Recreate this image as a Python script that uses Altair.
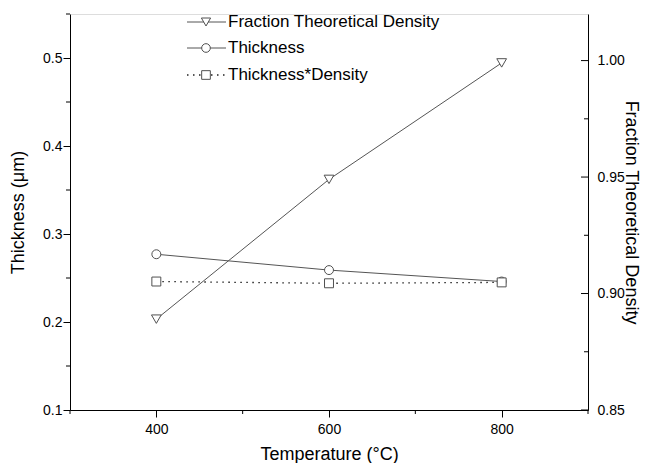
import altair as alt
import pandas as pd

# ---- data ----
temperature = [400, 600, 800]
thickness = [0.277, 0.259, 0.246]
thickness_density = [0.246, 0.244, 0.245]
density = [0.889, 0.949, 0.999]

x_major = [400, 600, 800]
x_minor = [300, 500, 700, 900]
left_major = [0.1, 0.2, 0.3, 0.4, 0.5]
left_minor = [0.15, 0.25, 0.35, 0.45, 0.55]
right_major = [0.85, 0.90, 0.95, 1.00]
right_minor = [0.875, 0.925, 0.975]
legend_labels = ["Fraction Theoretical Density", "Thickness", "Thickness*Density"]
legend_shapes = ["triangle-down", "circle", "square"]

W, H = 518, 396
FONT = "Liberation Sans"
GRAY = "#505050"
LINE = "#555555"

df = pd.DataFrame({"T": temperature, "thick": thickness,
                   "td": thickness_density, "dens": density})

xscale = alt.Scale(domain=[300, 900], nice=False, zero=False)
lscale = alt.Scale(domain=[0.1, 0.55], nice=False, zero=False)
rscale = alt.Scale(domain=[0.85, 1.02], nice=False, zero=False)

common = dict(grid=False, domainColor="black", tickColor="black",
              labelColor="black", titleColor="black", labelFont=FONT,
              titleFont=FONT, labelFontSize=14, titleFontSize=18,
              titleFontWeight="normal", domainWidth=1, tickWidth=1)

xaxis = alt.Axis(values=x_major, format="d", title="Temperature (°C)",
                 tickSize=7, labelPadding=5, titleX=W / 2, titleY=44,
                 titleBaseline="middle", titleAngle=0, **common)
laxis = alt.Axis(values=left_major, format=".1f", title="Thickness (μm)",
                 tickSize=7, labelPadding=1, titleX=-52, titleY=H / 2,
                 titleBaseline="middle", titleAngle=-90, **common)
raxis = alt.Axis(values=right_major, format=".2f", orient="right",
                 title="Fraction Theoretical Density", ticks=False,
                 tickSize=0, labelPadding=9, titleX=42, titleY=H / 2,
                 titleBaseline="middle", titleAngle=90, **common)

X = alt.X("T:Q", scale=xscale, axis=xaxis)

thick_line = alt.Chart(df).mark_line(color=LINE, strokeWidth=1).encode(
    x=X, y=alt.Y("thick:Q", scale=lscale, axis=laxis))
thick_pts = alt.Chart(df).mark_point(shape="circle", size=80, filled=True,
                                     fill="white", stroke=GRAY, strokeWidth=1,
                                     opacity=1).encode(
    x=X, y=alt.Y("thick:Q", scale=lscale, axis=laxis))
td_line = alt.Chart(df).mark_line(color="#222222", strokeWidth=1.3,
                                  strokeDash=[1.5, 4.5]).encode(
    x=X, y=alt.Y("td:Q", scale=lscale, axis=laxis))
td_pts = alt.Chart(df).mark_point(shape="square", size=80, filled=True,
                                  fill="white", stroke=GRAY, strokeWidth=1,
                                  opacity=1).encode(
    x=X, y=alt.Y("td:Q", scale=lscale, axis=laxis))

lminor = alt.Chart(pd.DataFrame({"v": left_minor})).mark_rule(
    color="black", strokeWidth=1).encode(
    y=alt.Y("v:Q", scale=lscale, axis=laxis),
    x=alt.value(-4), x2=alt.value(0))
xminor = alt.Chart(pd.DataFrame({"v": x_minor})).mark_rule(
    color="black", strokeWidth=1).encode(
    x=alt.X("v:Q", scale=xscale, axis=xaxis),
    y=alt.value(H), y2=alt.value(H + 4))

left = alt.layer(thick_line, td_line, thick_pts, td_pts, lminor, xminor)

dens_line = alt.Chart(df).mark_line(color=LINE, strokeWidth=1).encode(
    x=X, y=alt.Y("dens:Q", scale=rscale, axis=raxis))
dens_pts = alt.Chart(df).mark_point(shape="triangle-down", size=95,
                                    filled=True, fill="white", stroke=GRAY,
                                    strokeWidth=1, opacity=1).encode(
    x=X, y=alt.Y("dens:Q", scale=rscale, axis=raxis))
rmajor = alt.Chart(pd.DataFrame({"v": right_major})).mark_rule(
    color="black", strokeWidth=1).encode(
    y=alt.Y("v:Q", scale=rscale, axis=raxis),
    x=alt.value(W - 7), x2=alt.value(W))
rminor = alt.Chart(pd.DataFrame({"v": right_minor})).mark_rule(
    color="black", strokeWidth=1).encode(
    y=alt.Y("v:Q", scale=rscale, axis=raxis),
    x=alt.value(W - 4), x2=alt.value(W))

right = alt.layer(dens_line, dens_pts, rmajor, rminor)

# ---- manual legend (line - symbol - line, label) ----
one = pd.DataFrame({"d": [0]})
legend_layers = []
row_y = [8, 34, 61]
for i, (lab, shp) in enumerate(zip(legend_labels, legend_shapes)):
    yy = row_y[i]
    dash = [1.5, 4.5] if i == 2 else [1, 0]
    col = "#222222" if i == 2 else LINE
    sw = 1.3 if i == 2 else 1
    legend_layers.append(alt.Chart(one).mark_rule(
        color=col, strokeWidth=sw, strokeDash=dash).encode(
        x=alt.value(117), x2=alt.value(156), y=alt.value(yy)))
    legend_layers.append(alt.Chart(one).mark_point(
        shape=shp, size=75 if i != 0 else 85, filled=True, fill="white",
        stroke=GRAY, strokeWidth=1, opacity=1).encode(
        x=alt.value(136), y=alt.value(yy)))
    legend_layers.append(alt.Chart(one).mark_text(
        align="left", baseline="middle", font=FONT, fontSize=17,
        color="black").encode(
        x=alt.value(158), y=alt.value(yy), text=alt.value(lab)))

chart = alt.layer(left, right, *legend_layers).resolve_scale(
    y="independent").properties(
    width=W, height=H,
    autosize=alt.AutoSizeParams(type="none"),
    padding={"left": 62, "top": 6, "right": 52, "bottom": 53},
).configure_view(stroke=None).configure(background="white")

chart.save("out.html", embed_options={"renderer": "svg", "actions": False})
